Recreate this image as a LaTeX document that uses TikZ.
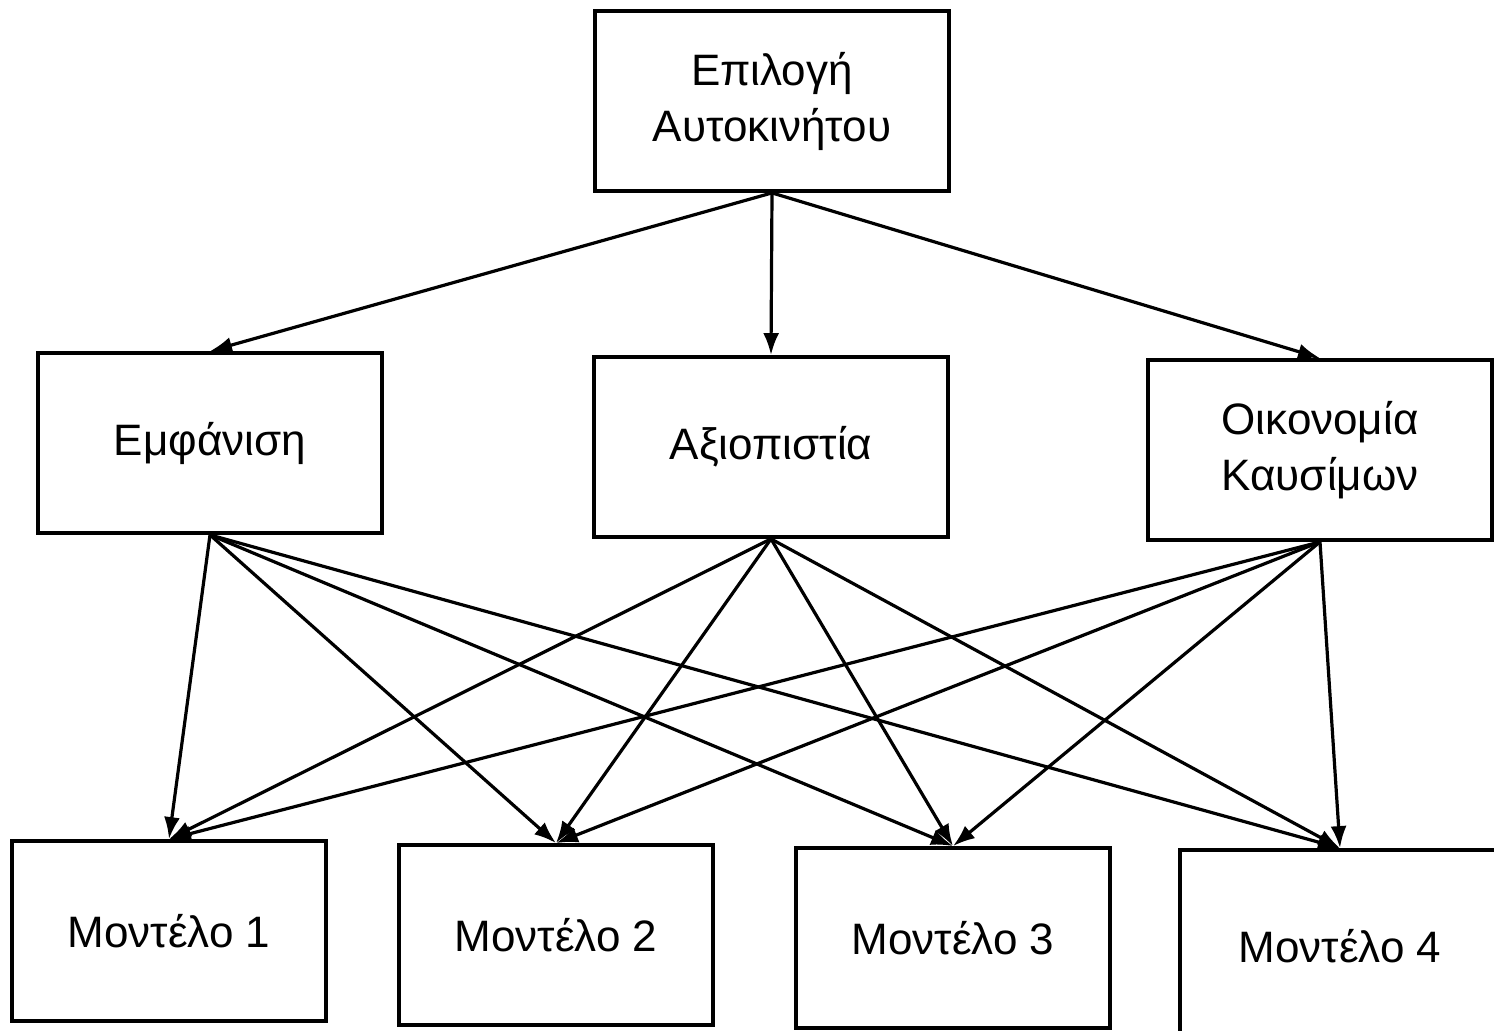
\documentclass[tikz,border=0pt]{standalone}
\usepackage{fontspec}
\setmainfont{Liberation Sans}
\usetikzlibrary{arrows.meta}

\begin{document}
\begin{tikzpicture}[x=0.5pt,y=-0.5pt,
    box/.style={draw,line width=1.9pt,inner sep=0pt,align=center,
      minimum width=172pt,minimum height=90pt,font=\fontsize{22}{28}\selectfont},
    link/.style={line width=1.6pt,-{Latex[length=11pt,width=8pt]}}]
    \useasboundingbox (0,0) rectangle (1494,1030);
    % Goal
    \node[box,minimum width=177pt] (goal) at (772,101) {Επιλογή\\Αυτοκινήτου};
    % Criteria: {name/x/y/width/label}
    \foreach \n/\x/\y/\w/\t in {emf/210/443/172/Εμφάνιση, axi/771/447/177/Αξιοπιστία,
      oik/1320/450/172/{Οικονομία\\Καυσίμων}}
      \node[box,minimum width=\w pt] (\n) at (\x,\y) {\t};
    % Alternatives
    \foreach \n/\x/\y [count=\k] in {m1/169/931, m2/556/935, m3/953/938}
      \node[box,minimum width=157pt] (\n) at (\x,\y) {Μοντέλο \k};
    \node[box,minimum width=160pt,minimum height=96pt] (m4) at (1340,946) {Μοντέλο 4};
    % Links
    \foreach \c in {emf,axi,oik}{
      \draw[link] (goal.south) -- (\c.north);
      \foreach \m in {m1,m2,m3,m4}
        \draw[link] (\c.south) -- (\m.north);
    }
\end{tikzpicture}
\end{document}
